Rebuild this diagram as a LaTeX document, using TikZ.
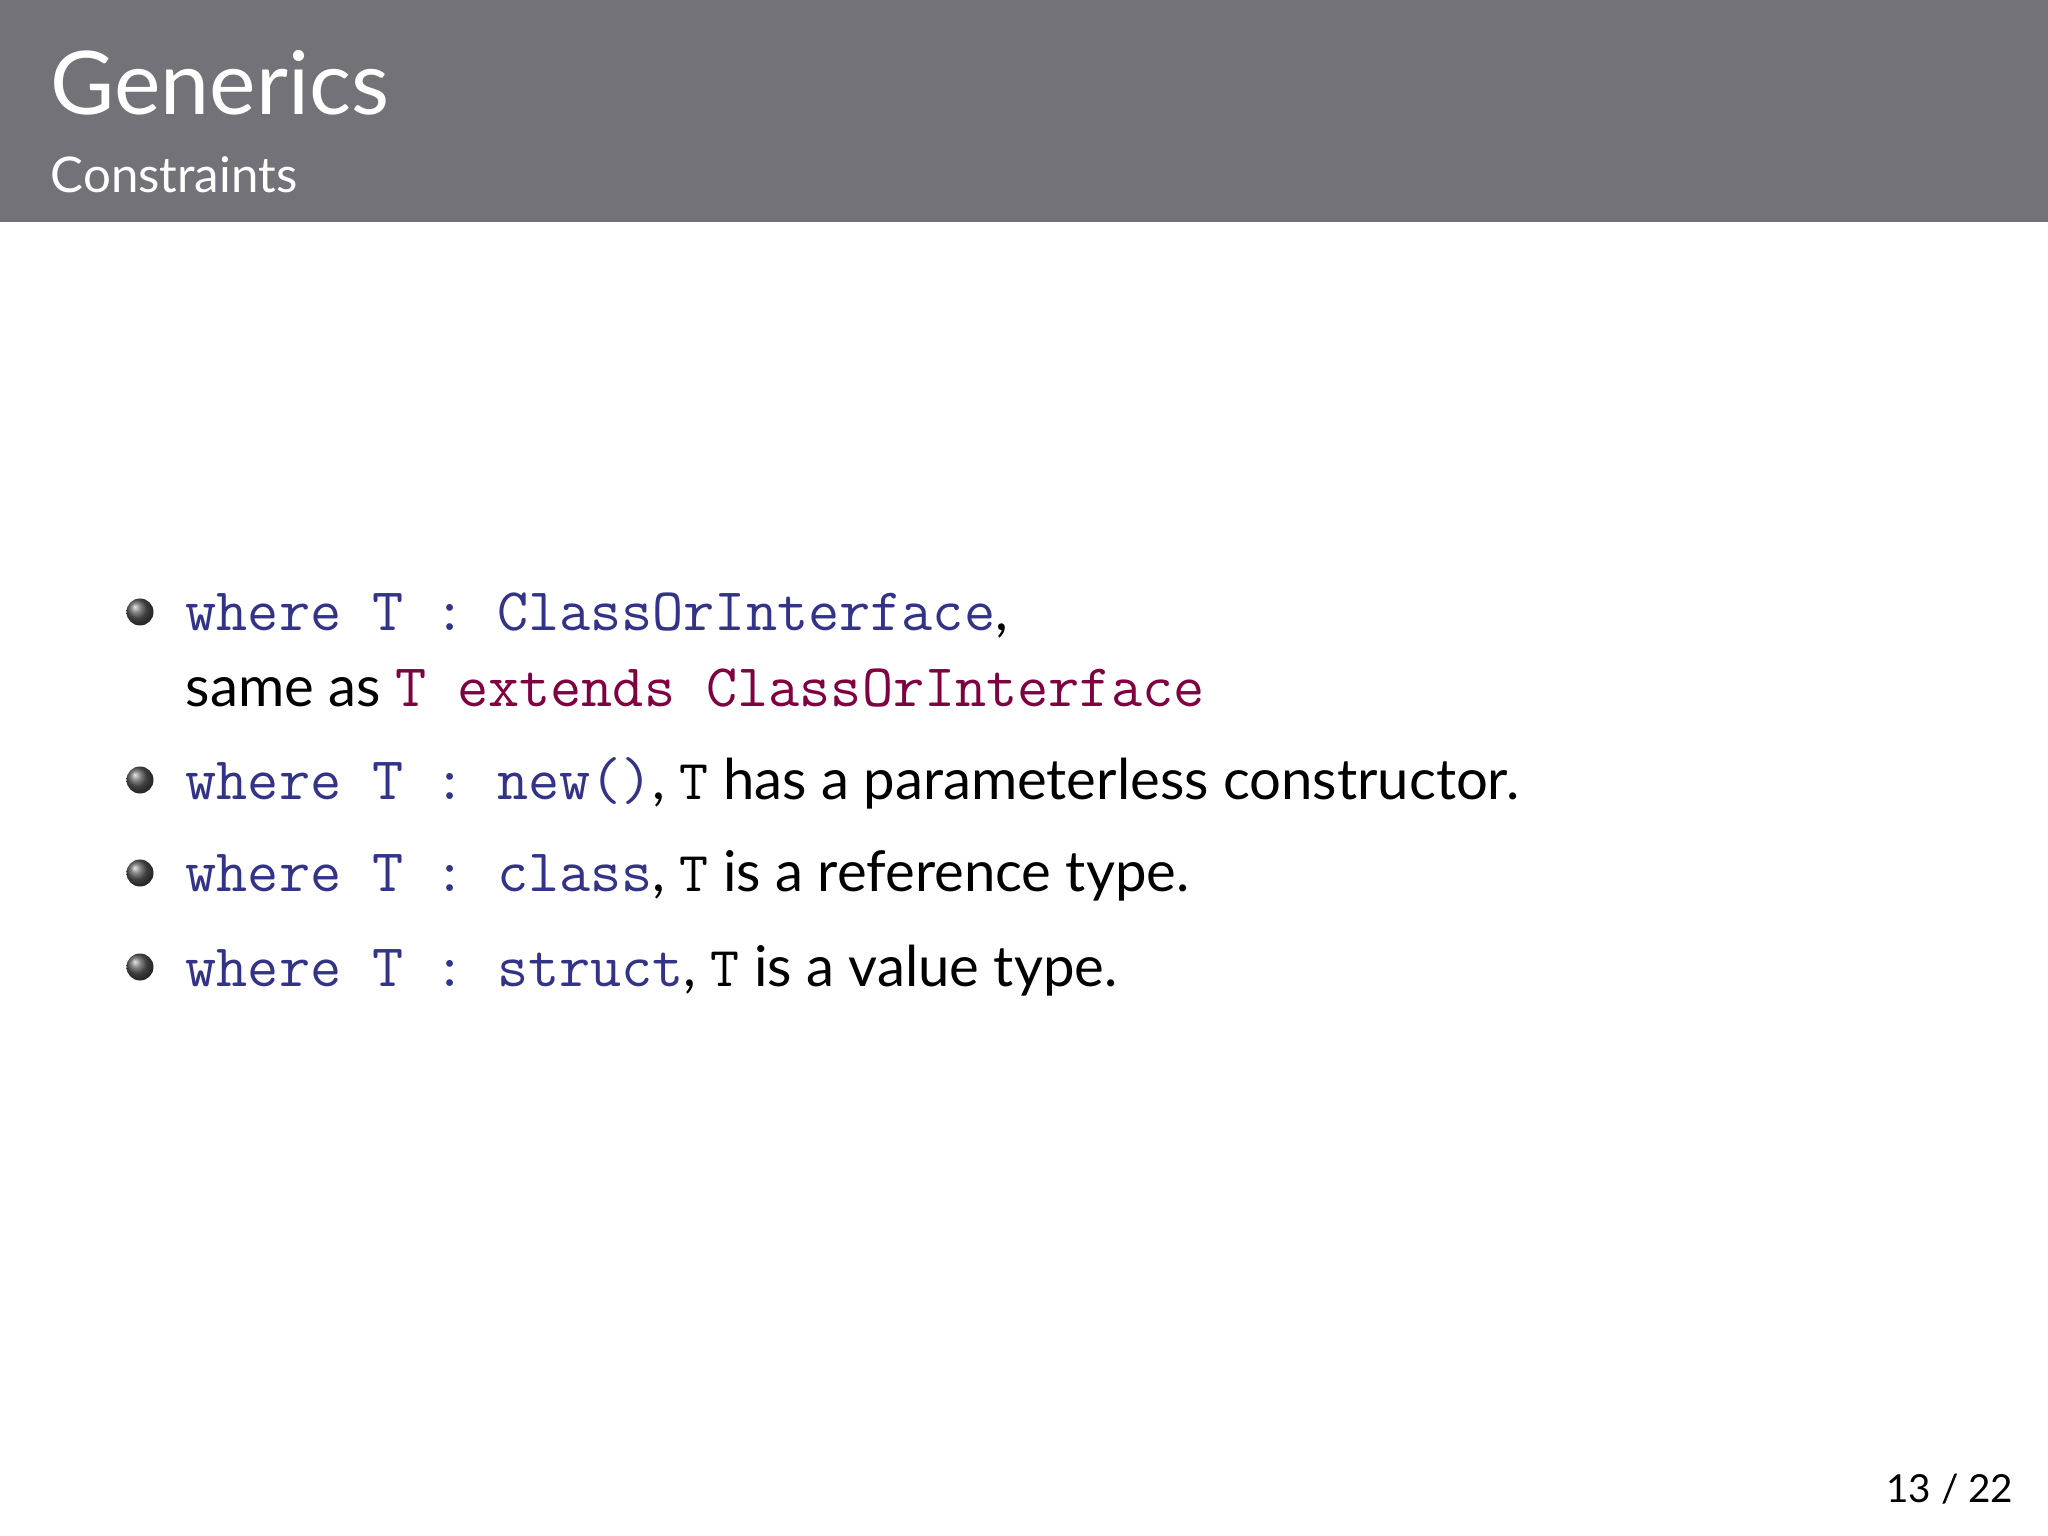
\documentclass[tikz,border=0pt]{standalone}
\usepackage{fontspec}
\setmainfont{Lato}
\setmonofont{Latin Modern Mono}
\definecolor{hdr}{HTML}{737278}
\definecolor{kw}{HTML}{333388}
\definecolor{mr}{HTML}{800040}
\tikzset{
  txt/.style={anchor=base west, inner sep=0pt, font=\fontsize{16}{19}\selectfont},
  ballet/.style={circle, minimum size=0.27cm, inner sep=0pt, shading=ball, ball color=black!65}
}
\newcommand{\cd}[1]{{\fontsize{17.2}{20}\selectfont\ttfamily\color{kw}#1}}
\newcommand{\cm}[1]{{\fontsize{17.2}{20}\selectfont\ttfamily\color{mr}#1}}
\begin{document}
\begin{tikzpicture}
\useasboundingbox (0,0) rectangle (20.48,-15.36);
\fill[white] (0,0) rectangle (20.48,-15.36);
\fill[hdr] (0,0) rectangle (20.48,-2.22);
\node[anchor=base west, inner sep=0pt, text=white, font=\fontsize{25}{30}\selectfont] (title) at (0.50,-1.15) {Generics};
\node[anchor=base west, inner sep=0pt, text=white, font=\fontsize{14}{17}\selectfont] (sub) at (0.50,-1.93) {Constraints};

\node[ballet] (b1) at (1.40,-6.12) {};
\node[txt] (l1) at (1.85,-6.31) {\cd{where T : ClassOrInterface},};
\node[txt] (l2) at (1.85,-7.07) {same as \cm{T extends ClassOrInterface}};
\node[ballet] (b2) at (1.40,-7.80) {};
\node[txt] (l3) at (1.85,-7.99) {\cd{where T : new()}, \texttt{T} has a parameterless constructor.};
\node[ballet] (b3) at (1.40,-8.73) {};
\node[txt] (l4) at (1.85,-8.92) {\cd{where T : class}, \texttt{T} is a reference type.};
\node[ballet] (b4) at (1.40,-9.67) {};
\node[txt] (l5) at (1.85,-9.86) {\cd{where T : struct}, \texttt{T} is a value type.};

\node[anchor=base east, inner sep=0pt, font=\fontsize{11}{13}\selectfont] (pg) at (20.14,-15.02) {13 / 22};
\end{tikzpicture}
\end{document}
